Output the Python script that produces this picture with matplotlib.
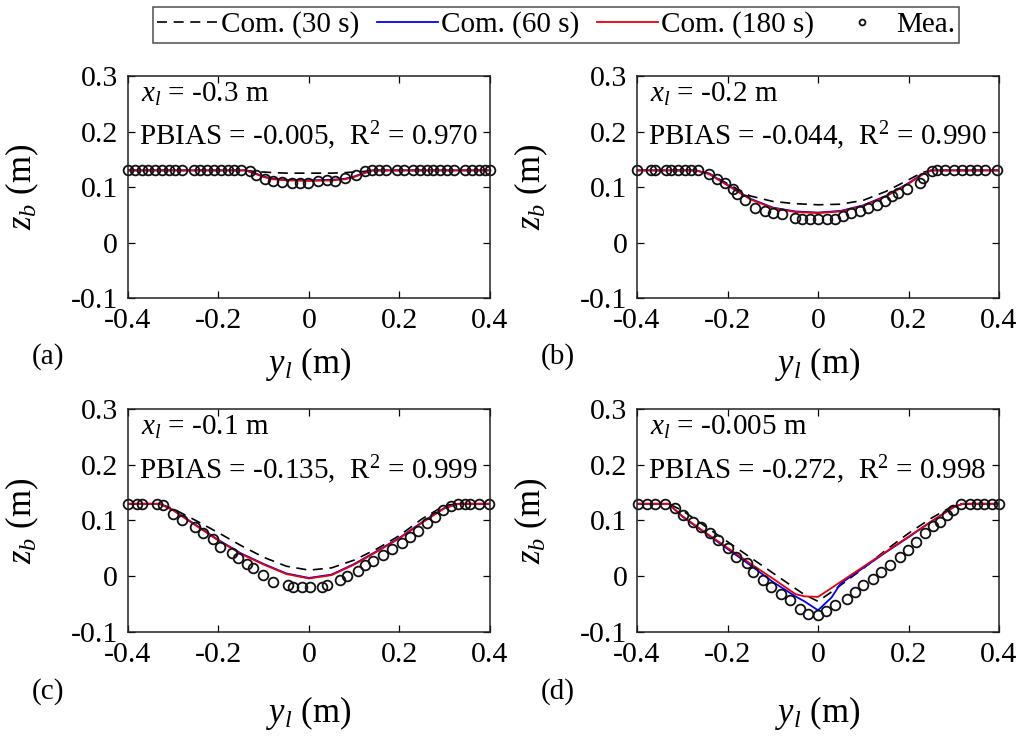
import matplotlib
matplotlib.use("Agg")
import matplotlib.pyplot as plt

plt.rcParams["font.family"] = ["Liberation Serif", "DejaVu Serif"]
plt.rcParams["mathtext.fontset"] = "custom"
plt.rcParams["mathtext.rm"] = "Liberation Serif"
plt.rcParams["mathtext.it"] = "Liberation Serif:italic"
plt.rcParams["axes.unicode_minus"] = False

# ---- measured bed profiles (y_l in m, z_b in m) ----
ya_mea = [-0.400, -0.385, -0.370, -0.355, -0.340, -0.325, -0.310, -0.295, -0.280,
          -0.255, -0.240, -0.225, -0.210, -0.195, -0.180, -0.165, -0.150,
          -0.130, -0.116, -0.097, -0.079, -0.060, -0.038, -0.020, -0.002,
          0.020, 0.039, 0.057, 0.080, 0.105, 0.124,
          0.140, 0.155, 0.170, 0.195, 0.210, 0.230, 0.245, 0.260, 0.275,
          0.290, 0.305, 0.320, 0.345, 0.360, 0.375, 0.390, 0.400]
za_mea = [0.130, 0.130, 0.130, 0.130, 0.130, 0.130, 0.130, 0.130, 0.130,
          0.130, 0.130, 0.130, 0.130, 0.130, 0.130, 0.130, 0.130,
          0.128, 0.122, 0.114, 0.110, 0.109, 0.108, 0.107, 0.107,
          0.111, 0.112, 0.111, 0.116, 0.122, 0.128,
          0.130, 0.130, 0.130, 0.130, 0.130, 0.130, 0.130, 0.130, 0.130,
          0.130, 0.130, 0.130, 0.130, 0.130, 0.130, 0.130, 0.130]

yb_mea = [-0.400, -0.370, -0.360, -0.335, -0.325, -0.310, -0.295, -0.280, -0.265,
          -0.242, -0.224, -0.206, -0.187, -0.180, -0.161, -0.139, -0.117, -0.099,
          -0.080, -0.051, -0.036, -0.018, 0.001, 0.019, 0.037, 0.056, 0.074,
          0.093, 0.111, 0.130, 0.148, 0.163, 0.177, 0.196, 0.225, 0.233, 0.251,
          0.262, 0.280, 0.300, 0.318, 0.335, 0.352, 0.370, 0.395]
zb_mea = [0.130, 0.130, 0.130, 0.130, 0.130, 0.130, 0.130, 0.130, 0.130,
          0.123, 0.114, 0.107, 0.096, 0.087, 0.077, 0.063, 0.056, 0.054,
          0.051, 0.044, 0.043, 0.043, 0.043, 0.043, 0.043, 0.047, 0.053,
          0.056, 0.062, 0.068, 0.075, 0.083, 0.089, 0.096, 0.107, 0.116, 0.128,
          0.130, 0.130, 0.130, 0.130, 0.130, 0.130, 0.130, 0.130]

yc_mea = [-0.400, -0.380, -0.370, -0.335, -0.322, -0.300, -0.280, -0.252, -0.234,
          -0.211, -0.197, -0.171, -0.156, -0.138, -0.123, -0.101, -0.079, -0.046,
          -0.035, -0.016, 0.002, 0.028, 0.040, 0.068, 0.083, 0.109, 0.124, 0.142,
          0.164, 0.183, 0.205, 0.223, 0.242, 0.260, 0.278, 0.297, 0.315, 0.330,
          0.345, 0.355, 0.375, 0.398]
zc_mea = [0.130, 0.130, 0.130, 0.130, 0.127, 0.112, 0.101, 0.088, 0.078,
          0.066, 0.052, 0.042, 0.032, 0.022, 0.014, 0.002, -0.010, -0.016,
          -0.019, -0.020, -0.020, -0.019, -0.016, -0.006, 0.000, 0.009, 0.020, 0.028,
          0.038, 0.048, 0.059, 0.071, 0.082, 0.095, 0.107, 0.118, 0.126, 0.130,
          0.130, 0.130, 0.130, 0.130]

yd_mea = [-0.398, -0.379, -0.361, -0.339, -0.317, -0.298, -0.276, -0.258, -0.239,
          -0.221, -0.199, -0.181, -0.158, -0.144, -0.122, -0.103, -0.081, -0.063,
          -0.040, -0.022, 0.000, 0.018, 0.037, 0.063, 0.081, 0.099, 0.122, 0.140,
          0.158, 0.181, 0.199, 0.217, 0.236, 0.254, 0.269, 0.284, 0.298, 0.317,
          0.335, 0.352, 0.367, 0.385, 0.400]
zd_mea = [0.130, 0.130, 0.130, 0.130, 0.122, 0.110, 0.098, 0.088, 0.077,
          0.065, 0.050, 0.035, 0.023, 0.008, -0.007, -0.019, -0.031, -0.043,
          -0.058, -0.068, -0.070, -0.062, -0.052, -0.040, -0.028, -0.016, -0.005, 0.007,
          0.020, 0.035, 0.047, 0.062, 0.077, 0.090, 0.098, 0.110, 0.119, 0.130,
          0.130, 0.130, 0.130, 0.130, 0.130]

# ---- computed bed profiles at 30 s, 60 s and 180 s ----
ya_com = [-0.40, -0.14, -0.12, -0.10, -0.08, -0.05, 0.00, 0.05, 0.08, 0.10, 0.12, 0.14, 0.40]
za_30 = [0.130, 0.130, 0.128, 0.127, 0.126, 0.125, 0.125, 0.125, 0.126, 0.127, 0.128, 0.130, 0.130]
za_60 = [0.130, 0.130, 0.125, 0.119, 0.115, 0.113, 0.112, 0.113, 0.115, 0.119, 0.125, 0.130, 0.130]
za_180 = [0.130, 0.130, 0.124, 0.118, 0.114, 0.112, 0.111, 0.112, 0.114, 0.118, 0.124, 0.130, 0.130]

yb_com = [-0.40, -0.27, -0.24, -0.20, -0.15, -0.10, -0.05, 0.00, 0.05, 0.10, 0.15, 0.20, 0.23, 0.25, 0.40]
zb_30 = [0.130, 0.130, 0.124, 0.106, 0.084, 0.074, 0.070, 0.068, 0.069, 0.076, 0.092, 0.113, 0.126, 0.130, 0.130]
zb_60 = [0.130, 0.130, 0.124, 0.104, 0.079, 0.063, 0.056, 0.054, 0.057, 0.067, 0.084, 0.107, 0.123, 0.130, 0.130]
zb_180 = [0.130, 0.130, 0.123, 0.103, 0.078, 0.062, 0.055, 0.053, 0.056, 0.066, 0.083, 0.106, 0.122, 0.130, 0.130]

yc_com = [-0.40, -0.33, -0.30, -0.25, -0.20, -0.15, -0.10, -0.05, 0.00, 0.05, 0.10, 0.15, 0.20, 0.25, 0.30, 0.33, 0.40]
zc_30 = [0.130, 0.130, 0.121, 0.100, 0.078, 0.055, 0.034, 0.018, 0.011, 0.015, 0.029, 0.049, 0.073, 0.103, 0.127, 0.130, 0.130]
zc_60 = [0.130, 0.130, 0.119, 0.092, 0.065, 0.041, 0.022, 0.005, -0.003, 0.003, 0.022, 0.045, 0.069, 0.097, 0.123, 0.130, 0.130]
zc_180 = [0.130, 0.130, 0.118, 0.091, 0.064, 0.040, 0.021, 0.004, -0.004, 0.002, 0.021, 0.044, 0.068, 0.096, 0.122, 0.130, 0.130]

yd_com = [-0.40, -0.33, -0.30, -0.25, -0.20, -0.15, -0.10, -0.05, -0.03, 0.00,
          0.03, 0.05, 0.10, 0.15, 0.20, 0.25, 0.30, 0.32, 0.40]
zd_30 = [0.130, 0.130, 0.118, 0.090, 0.062, 0.034, 0.006, -0.022, -0.033, -0.045,
         -0.028, -0.016, 0.014, 0.047, 0.077, 0.104, 0.127, 0.130, 0.130]
zd_60 = [0.130, 0.130, 0.107, 0.078, 0.049, 0.020, -0.010, -0.036, -0.045, -0.061,
         -0.038, -0.013, 0.015, 0.043, 0.070, 0.098, 0.124, 0.130, 0.130]
zd_180 = [0.130, 0.130, 0.108, 0.079, 0.051, 0.023, -0.004, -0.032, -0.036, -0.037,
          -0.021, -0.010, 0.017, 0.044, 0.071, 0.098, 0.124, 0.130, 0.130]

x_loc = ["-0.3", "-0.2", "-0.1", "-0.005"]
pbias = ["-0.005", "-0.044", "-0.135", "-0.272"]
r2 = ["0.970", "0.990", "0.999", "0.998"]
tags = ["(a)", "(b)", "(c)", "(d)"]

panels = [
    (ya_mea, za_mea, ya_com, za_30, za_60, za_180),
    (yb_mea, zb_mea, yb_com, zb_30, zb_60, zb_180),
    (yc_mea, zc_mea, yc_com, zc_30, zc_60, zc_180),
    (yd_mea, zd_mea, yd_com, zd_30, zd_60, zd_180),
]

# axes boxes in figure fraction: left, bottom, width, height
boxes = [
    (0.1252, 0.5951, 0.3542, 0.3016),
    (0.6233, 0.5951, 0.3542, 0.3016),
    (0.1252, 0.1413, 0.3542, 0.3030),
    (0.6233, 0.1413, 0.3542, 0.3030),
]

fig = plt.figure(figsize=(10.22, 7.36), dpi=100)

handles = None
for i, (ym, zm, yc, z30, z60, z180) in enumerate(panels):
    ax = fig.add_axes(boxes[i])
    h1, = ax.plot(yc, z30, color="black", ls="--", lw=1.2, dashes=(6, 4), label="Com. (30 s)")
    h2, = ax.plot(yc, z60, color="#0000ff", lw=1.3, label="Com. (60 s)")
    h3, = ax.plot(yc, z180, color="#e8000b", lw=1.3, label="Com. (180 s)")
    h4, = ax.plot(ym, zm, "o", mfc="none", mec="#111111", ms=7, mew=1.3,
                  clip_on=False, label="Mea.")
    if handles is None:
        handles = [h1, h2, h3, h4]

    ax.set_xlim(-0.4, 0.4)
    ax.set_ylim(-0.1, 0.3)
    ax.set_xticks([-0.4, -0.2, 0, 0.2, 0.4])
    ax.set_xticklabels(["-0.4", "-0.2", "0", "0.2", "0.4"])
    ax.set_yticks([-0.1, 0, 0.1, 0.2, 0.3])
    ax.set_yticklabels(["-0.1", "0", "0.1", "0.2", "0.3"])
    ax.tick_params(direction="in", length=5, width=0.9, top=True, right=True,
                   labelsize=21.5, pad=7)
    for sp in ax.spines.values():
        sp.set_linewidth(1.1)
        sp.set_color("#222222")

    ax.set_xlabel(r"$y_l$ (m)", fontsize=25)
    ax.set_ylabel(r"$z_b$ (m)", fontsize=25)
    row_y = -0.21 if i < 2 else -0.28
    ax.xaxis.set_label_coords(0.5, row_y)
    ax.yaxis.set_label_coords(-0.24, 0.5)

    ax.text(0.035, 0.884, r"$x_l$ = " + x_loc[i] + " m", transform=ax.transAxes,
            fontsize=21, va="baseline", ha="left")
    ax.text(0.030, 0.689, "PBIAS = " + pbias[i] + ",  R$^2$ = " + r2[i],
            transform=ax.transAxes, fontsize=21, va="baseline", ha="left")
    ax.text(-0.265, -0.265, tags[i], transform=ax.transAxes, fontsize=21,
            va="center", ha="left")

leg = fig.legend(handles, [h.get_label() for h in handles], loc="center",
                 bbox_to_anchor=(0.544, 0.966), ncol=4, fontsize=21,
                 frameon=True, fancybox=False, edgecolor="#222222",
                 handlelength=2.1, handletextpad=0.1, columnspacing=0.6,
                 borderpad=0.15, markerscale=0.6)
leg.get_frame().set_linewidth(1.1)

fig.savefig("out.png", dpi=100)
